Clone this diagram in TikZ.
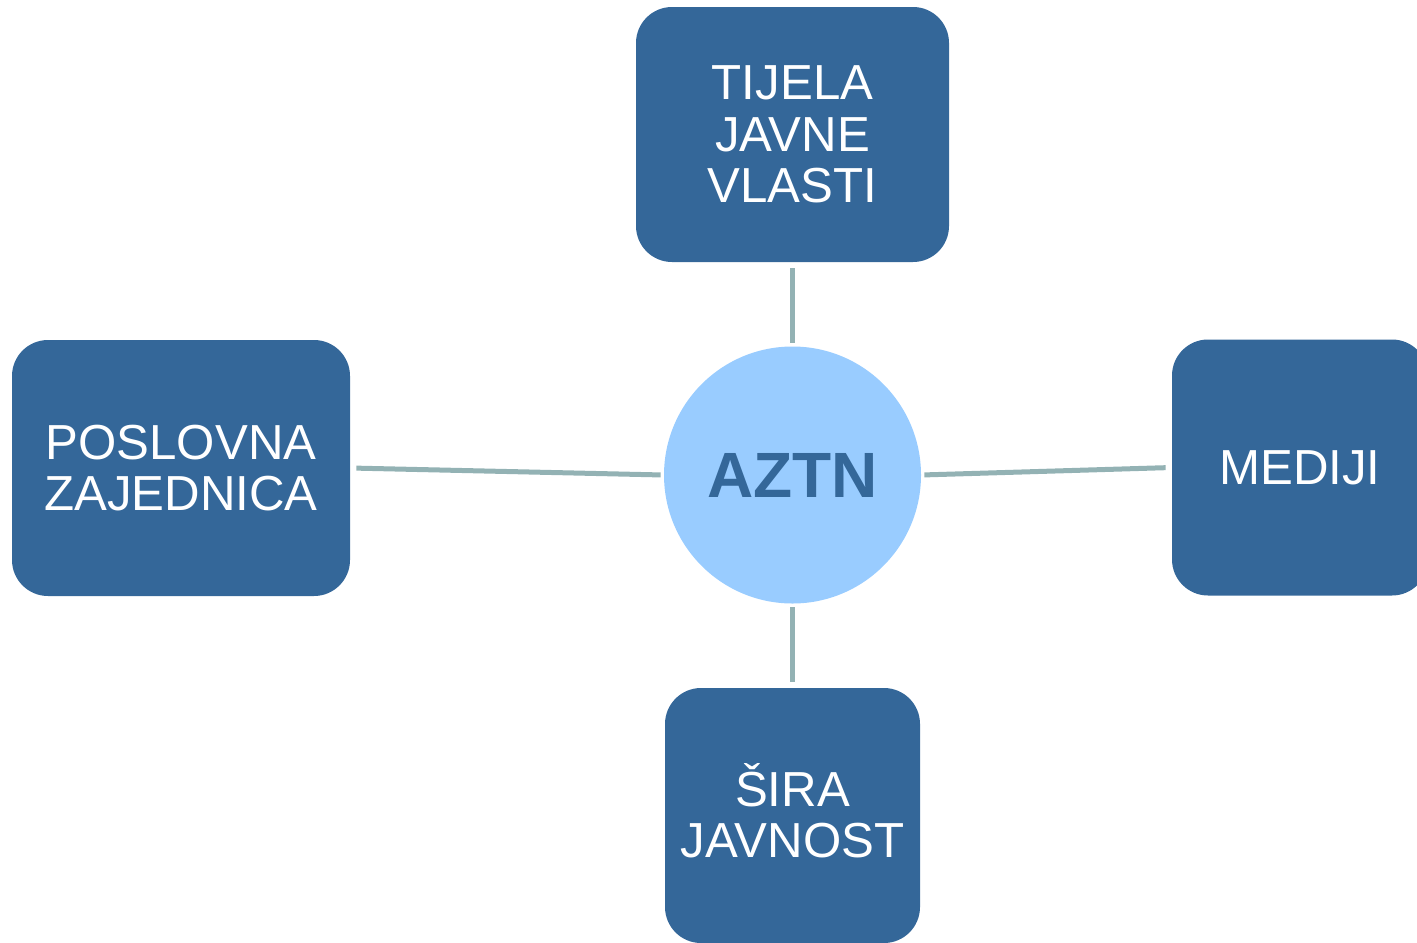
\documentclass[tikz,border=0pt]{standalone}
\usepackage{fontspec}
\setmainfont{Liberation Sans}
\definecolor{boxblue}{HTML}{346799}
\definecolor{circblue}{HTML}{99CCFF}
\definecolor{linkgray}{HTML}{93B2B4}
\begin{document}
\begin{tikzpicture}[x=0.5pt,y=-0.5pt,
  sbox/.style={rectangle, rounded corners=18pt, fill=boxblue, text=white,
    inner sep=0pt, align=center, font=\fontsize{24.6}{25.75}\selectfont},
  hub/.style={circle, fill=circblue, text=boxblue, inner sep=0pt,
    minimum size=128.5pt, font=\fontsize{32}{36}\selectfont\bfseries},
  link/.style={draw=linkgray, line width=2.5pt, shorten <=3pt, shorten >=1.5pt}]
\useasboundingbox (0,0) rectangle (1417,942);
\node[hub] (c) at (792.5,475) {AZTN};
\node[sbox, minimum width=156.5pt, minimum height=127.5pt] (t) at (792.5,134.5) {TIJELA\\JAVNE\\VLASTI};
\node[sbox, minimum width=169pt, minimum height=128pt] (l) at (181,468) {POSLOVNA\\ZAJEDNICA};
\node[sbox, minimum width=128pt, minimum height=128pt] (r) at (1300,467.5) {MEDIJI};
\node[sbox, minimum width=127.5pt, minimum height=127.5pt] (b) at (792.5,815.5) {ŠIRA\\JAVNOST\rule[-4.8pt]{0pt}{1pt}};
\draw[link] (t.south) -- (c.north);
\draw[link] (l.east) -- (c.west);
\draw[link] (r.west) -- (c.east);
\draw[link] (b.north) -- (c.south);
\end{tikzpicture}
\end{document}
